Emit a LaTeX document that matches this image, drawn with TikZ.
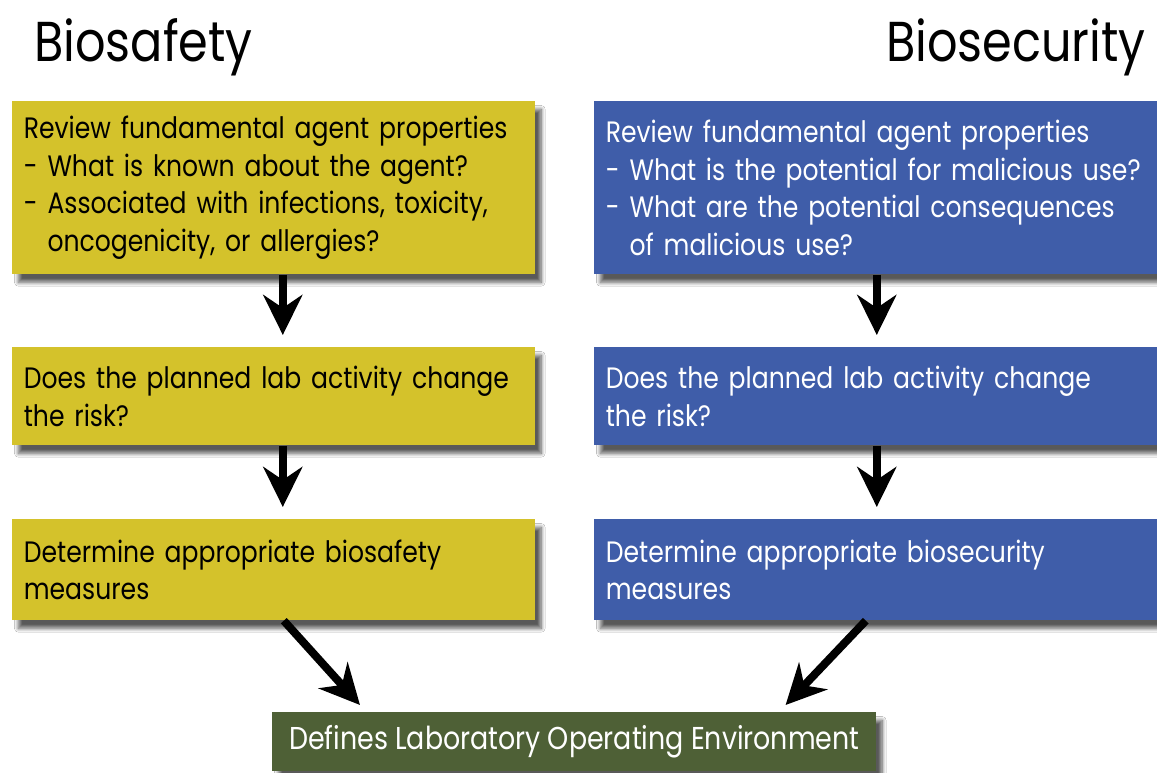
\documentclass[tikz,border=0pt]{standalone}
\usepackage{fontspec}
\setmainfont{Poppins}[FakeStretch=0.85]
\usetikzlibrary{shadows.blur,arrows.meta}

\begin{document}
\begin{tikzpicture}[x=0.02cm,y=-0.02cm,
  stepbox/.style={anchor=north west,text width=10cm,inner xsep=0.23cm,align=left,
    font=\fontsize{16.8}{21.3}\selectfont,
    blur shadow={shadow xshift=0.12cm,shadow yshift=-0.16cm,shadow blur steps=10,shadow opacity=65}},
  safebox/.style={stepbox,fill=safeyellow,text=black},
  securebox/.style={stepbox,fill=secureblue,text=white,text width=10.8cm},
  flow/.style={line width=0.16cm,-{Stealth[length=0.8cm,width=0.78cm,inset=0.26cm]}}]
\definecolor{safeyellow}{HTML}{D4C22B}
\definecolor{secureblue}{HTML}{3F5DA9}
\definecolor{envgreen}{HTML}{4E6036}
\useasboundingbox (0,0) rectangle (1157,773);
\fill[white] (0,0) rectangle (1157,773);

\node[anchor=base west,font=\fontsize{32}{32}\selectfont] (sftitle) at (28,62) {Biosafety};
\node[anchor=base east,font=\fontsize{32}{32}\selectfont] (setitle) at (1152,62) {Biosecurity};

% biosafety column
\node[safebox,minimum height=3.46cm] (sa1) at (12,101)
  {Review fundamental agent properties\\
   - What is known about the agent?\\
   - Associated with infections, toxicity,\\
   \phantom{- }oncogenicity, or allergies?};
\node[safebox,minimum height=1.96cm] (sa2) at (12,347)
  {Does the planned lab activity change\\the risk?};
\node[safebox,minimum height=2.02cm] (sa3) at (12,519)
  {Determine appropriate biosafety\\measures};

% biosecurity column
\node[securebox,minimum height=3.46cm] (se1) at (594,101)
  {Review fundamental agent properties\\
   - What is the potential for malicious use?\\
   - What are the potential consequences\\
   \phantom{- }of malicious use?};
\node[securebox,minimum height=1.96cm] (se2) at (594,347)
  {Does the planned lab activity change\\the risk?};
\node[securebox,minimum height=2.02cm] (se3) at (594,519)
  {Determine appropriate biosecurity\\measures};

\node[anchor=north west,minimum width=12.08cm,minimum height=1.18cm,fill=envgreen,text=white,
  font=\fontsize{18}{21.3}\selectfont,
  blur shadow={shadow xshift=0.12cm,shadow yshift=-0.16cm,shadow blur steps=10,shadow opacity=65}]
  (env) at (272,712) {Defines Laboratory Operating Environment};

\foreach \col/\dx in {sa/0.18cm,se/0.02cm}
{
  \draw[flow,shorten >=0.24cm] ([xshift=\dx]\col1.south) -- ([xshift=\dx]\col2.north);
  \draw[flow,shorten >=0.24cm] ([xshift=\dx]\col2.south) -- ([xshift=\dx]\col3.north);
}
\draw[flow] ([xshift=0.2cm]sa3.south) -- ([xshift=1.76cm,yshift=0.14cm]env.north west);
\draw[flow] ([xshift=-0.2cm]se3.south) -- ([xshift=-1.82cm,yshift=0.14cm]env.north east);
\end{tikzpicture}
\end{document}
